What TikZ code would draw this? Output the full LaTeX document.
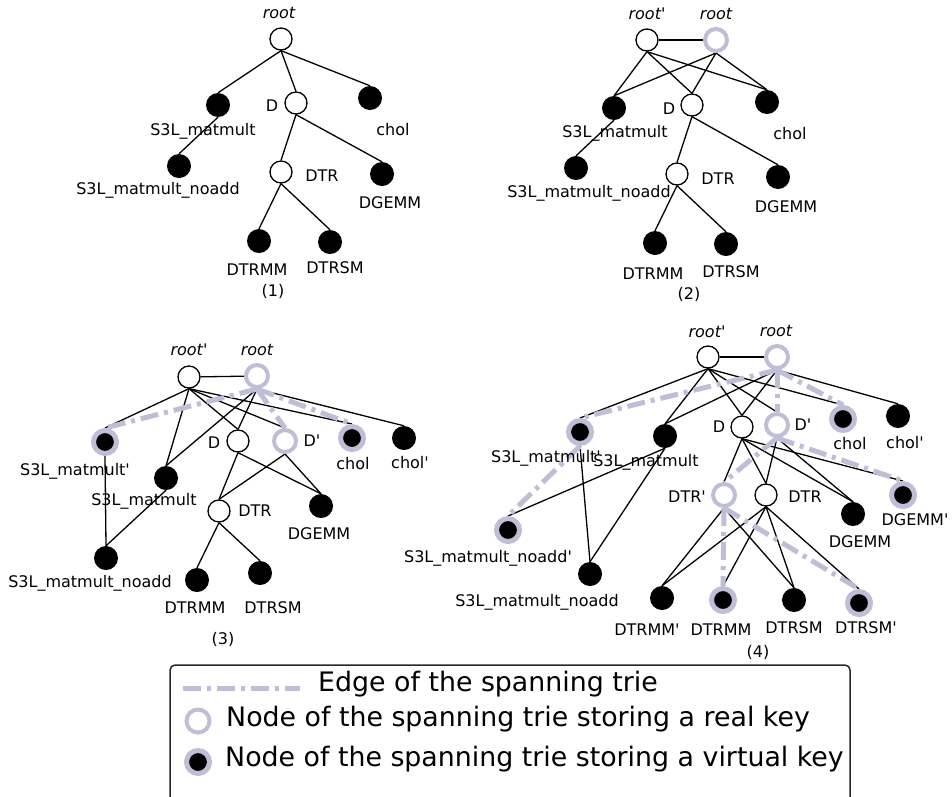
\documentclass[tikz,border=0pt]{standalone}
\usepackage{fontspec}
\newfontfamily\df{DejaVu Sans}
\usetikzlibrary{backgrounds}
\definecolor{lav}{RGB}{190,190,215}
\definecolor{boxc}{RGB}{40,40,40}
\tikzset{
  plain/.style={circle,draw=black,fill=white,line width=1.3pt,minimum size=22pt,inner sep=0pt},
  blk/.style={circle,fill=black,minimum size=24pt,inner sep=0pt},
  realk/.style={circle,draw=lav,fill=white,line width=4pt,minimum size=22pt,inner sep=0pt},
  virtk/.style={circle,draw=lav,fill=black,line width=5pt,minimum size=23pt,inner sep=0pt},
  lbl/.style={inner sep=0pt,font=\df\fontsize{16}{19}\selectfont},
  ilbl/.style={inner sep=0pt,font=\df\itshape\fontsize{16}{19}\selectfont},
  edg/.style={line width=1.3pt,black},
  span/.style={line width=5pt,lav,dash pattern=on 18pt off 6pt on 4pt off 6pt},
  leg/.style={inner sep=0pt,anchor=west,font=\df\fontsize{26.8}{31}\selectfont}
}
\begin{document}
\begin{tikzpicture}[x=1pt,y=-1pt]
\useasboundingbox (0,0) rectangle (952,796);
% ---------- Panel 1 ----------
\node[plain] (p1root) at (281,39) {};
\node[blk] (p1s3l) at (218,105) {};
\node[plain] (p1D) at (296,103) {};
\node[blk] (p1chol) at (370,98) {};
\node[blk] (p1noadd) at (179,166) {};
\node[plain] (p1DTR) at (281,172) {};
\node[blk] (p1DGEMM) at (382,174) {};
\node[blk] (p1DTRMM) at (259,241) {};
\node[blk] (p1DTRSM) at (330,242) {};
\node[ilbl] (l1root) at (279,13) {root};
\node[lbl] (l1s3l) at (203,131) {S3L\_matmult};
\node[lbl] (l1D) at (272,106) {D};
\node[lbl] (l1chol) at (393,130) {chol};
\node[lbl] (l1noadd) at (158,190) {S3L\_matmult\_noadd};
\node[lbl] (l1DTR) at (322,176) {DTR};
\node[lbl] (l1DGEMM) at (390,203) {DGEMM};
\node[lbl] (l1DTRMM) at (257,270) {DTRMM};
\node[lbl] (l1DTRSM) at (335,268) {DTRSM};
\node[lbl] (cap1) at (273,291) {(1)};
% ---------- Panel 2 ----------
\node[plain] (p2rootp) at (647,40) {};
\node[realk] (p2root) at (716,40) {};
\node[blk] (p2s3l) at (614,108) {};
\node[plain] (p2D) at (692,105) {};
\node[blk] (p2chol) at (767,102) {};
\node[blk] (p2noadd) at (576,168) {};
\node[plain] (p2DTR) at (677,174) {};
\node[blk] (p2DGEMM) at (778,177) {};
\node[blk] (p2DTRMM) at (655,243) {};
\node[blk] (p2DTRSM) at (726,244) {};
\node[ilbl] (l2rootp) at (647,14) {root'};
\node[ilbl] (l2root) at (716,14) {root};
\node[lbl] (l2s3l) at (615,133) {S3L\_matmult};
\node[lbl] (l2D) at (669,109) {D};
\node[lbl] (l2chol) at (790,134) {chol};
\node[lbl] (l2noadd) at (589,193) {S3L\_matmult\_noadd};
\node[lbl] (l2DTR) at (718,179) {DTR};
\node[lbl] (l2DGEMM) at (786,207) {DGEMM};
\node[lbl] (l2DTRMM) at (653,274) {DTRMM};
\node[lbl] (l2DTRSM) at (731,272) {DTRSM};
\node[lbl] (cap2) at (689,294) {(2)};
% ---------- Panel 3 ----------
\node[plain] (p3rootp) at (189,377) {};
\node[realk] (p3root) at (257,376) {};
\node[virtk] (p3s3lp) at (105,442) {};
\node[blk] (p3s3l) at (166,478) {};
\node[plain] (p3D) at (238,441) {};
\node[realk] (p3Dp) at (285,441) {};
\node[virtk] (p3chol) at (352,438) {};
\node[blk] (p3cholp) at (404,438) {};
\node[plain] (p3DTR) at (219,511) {};
\node[blk] (p3DGEMM) at (321,506) {};
\node[blk] (p3noadd) at (106,558) {};
\node[blk] (p3DTRMM) at (197,580) {};
\node[blk] (p3DTRSM) at (260,573) {};
\node[ilbl] (l3rootp) at (189,350) {root'};
\node[ilbl] (l3root) at (257,350) {root};
\node[lbl] (l3s3lp) at (75,471) {S3L\_matmult'};
\node[lbl] (l3s3l) at (144,501) {S3L\_matmult};
\node[lbl] (l3D) at (214,443) {D};
\node[lbl] (l3Dp) at (312,441) {D'};
\node[lbl] (l3chol) at (353,464) {chol};
\node[lbl] (l3cholp) at (410,463) {chol'};
\node[lbl] (l3DTR) at (255,511) {DTR};
\node[lbl] (l3DGEMM) at (319,534) {DGEMM};
\node[lbl] (l3noadd) at (90,583) {S3L\_matmult\_noadd};
\node[lbl] (l3DTRMM) at (195,608) {DTRMM};
\node[lbl] (l3DTRSM) at (273,608) {DTRSM};
\node[lbl] (cap3) at (223,639) {(3)};
% ---------- Panel 4 ----------
\node[plain] (p4rootp) at (708,357) {};
\node[realk] (p4root) at (777,357) {};
\node[virtk] (p4s3lp) at (580,432) {};
\node[blk] (p4s3l) at (665,436) {};
\node[virtk] (p4noaddp) at (508,530) {};
\node[blk] (p4noadd) at (590,574) {};
\node[plain] (p4D) at (742,427) {};
\node[realk] (p4Dp) at (777,425) {};
\node[virtk] (p4chol) at (843,419) {};
\node[blk] (p4cholp) at (898,416) {};
\node[realk] (p4DTRp) at (724,495) {};
\node[plain] (p4DTR) at (766,495) {};
\node[blk] (p4DGEMM) at (853,514) {};
\node[virtk] (p4DGEMMp) at (903,495) {};
\node[blk] (p4DTRMMp) at (662,598) {};
\node[virtk] (p4DTRMM) at (723,600) {};
\node[blk] (p4DTRSM) at (794,600) {};
\node[virtk] (p4DTRSMp) at (859,603) {};
\node[ilbl] (l4rootp) at (707,332) {root'};
\node[ilbl] (l4root) at (776,331) {root};
\node[lbl] (l4s3lp) at (546,458) {S3L\_matmult'};
\node[lbl] (l4s3l) at (646,462) {S3L\_matmult};
\node[lbl] (l4noaddp) at (488,558) {S3L\_matmult\_noadd'};
\node[lbl] (l4noadd) at (537,602) {S3L\_matmult\_noadd};
\node[lbl] (l4D) at (719,427) {D};
\node[lbl] (l4Dp) at (803,425) {D'};
\node[lbl] (l4chol) at (850,444) {chol};
\node[lbl] (l4cholp) at (905,443) {chol'};
\node[lbl] (l4DTRp) at (687,497) {DTR'};
\node[lbl] (l4DTR) at (805,497) {DTR};
\node[lbl] (l4DGEMM) at (860,542) {DGEMM};
\node[lbl] (l4DGEMMp) at (915,520) {DGEMM'};
\node[lbl] (l4DTRMMp) at (647,630) {DTRMM'};
\node[lbl] (l4DTRMM) at (721,630) {DTRMM};
\node[lbl] (l4DTRSM) at (794,628) {DTRSM};
\node[lbl] (l4DTRSMp) at (866,628) {DTRSM'};
\node[lbl] (cap4) at (758,652) {(4)};
% ---------- Legend ----------
\coordinate (legA) at (183,688);
\coordinate (legB) at (300,688);
\node[realk,minimum size=23pt] (legreal) at (198,721) {};
\node[virtk,minimum size=23pt] (legvirt) at (198,762) {};
\node[leg] (legt1) at (318,684) {Edge of the spanning trie};
\node[leg] (legt2) at (226,719) {Node of the spanning trie storing a real key};
\node[leg] (legt3) at (225,759) {Node of the spanning trie storing a virtual key};
\begin{scope}[on background layer]
\draw[boxc,line width=1.5pt,rounded corners=5pt] (170,665) rectangle (850,815);
\draw[span] (legA) -- (legB);
% panel 1 edges
\draw[edg] (p1root.south) -- (p1s3l.north);
\draw[edg] (p1root.south) -- (p1D.north);
\draw[edg] (p1root.south) -- (p1chol.north);
\draw[edg] (p1s3l.south) -- (p1noadd.north);
\draw[edg] (p1D.south) -- (p1DTR.north);
\draw[edg] (p1D.south) -- (p1DGEMM.north);
\draw[edg] (p1DTR.south) -- (p1DTRMM.north);
\draw[edg] (p1DTR.south) -- (p1DTRSM.north);
% panel 2 edges
\draw[edg] (p2rootp) -- (p2root);
\draw[edg] (p2rootp.south) -- (p2s3l.north);
\draw[edg] (p2rootp.south) -- (p2D.north);
\draw[edg] (p2rootp.south) -- (p2chol.north);
\draw[edg] (p2root.south) -- (p2s3l.north);
\draw[edg] (p2root.south) -- (p2D.north);
\draw[edg] (p2root.south) -- (p2chol.north);
\draw[edg] (p2s3l.south) -- (p2noadd.north);
\draw[edg] (p2D.south) -- (p2DTR.north);
\draw[edg] (p2D.south) -- (p2DGEMM.north);
\draw[edg] (p2DTR.south) -- (p2DTRMM.north);
\draw[edg] (p2DTR.south) -- (p2DTRSM.north);
% panel 3 edges
\draw[edg] (p3rootp) -- (p3root);
\draw[edg] (p3rootp.south) -- (p3s3lp.north);
\draw[edg] (p3rootp.south) -- (p3s3l.north);
\draw[edg] (p3rootp.south) -- (p3D.north);
\draw[edg] (p3rootp.south) -- (p3Dp.north);
\draw[edg] (p3rootp.south) -- (p3chol.north);
\draw[edg] (p3root.south) -- (p3cholp.north);
\draw[edg] (p3root.south) -- (p3s3l.north);
\draw[edg] (p3root.south) -- (p3D.north);
\draw[edg] (p3s3lp.south) -- (p3noadd.north);
\draw[edg] (p3s3l.south) -- (p3noadd.north);
\draw[edg] (p3D.south) -- (p3DTR.north);
\draw[edg] (p3D.south) -- (p3DGEMM.north);
\draw[edg] (p3Dp.south) -- (p3DTR.north);
\draw[edg] (p3Dp.south) -- (p3DGEMM.north);
\draw[edg] (p3DTR.south) -- (p3DTRMM.north);
\draw[edg] (p3DTR.south) -- (p3DTRSM.north);
\draw[span] (p3root.south) -- (p3s3lp.north);
\draw[span] (p3root.south) -- (p3Dp.north);
\draw[span] (p3root.south) -- (p3chol.north);
% panel 4 edges
\draw[edg] (p4rootp) -- (p4root);
\draw[edg] (p4rootp.south) -- (p4s3lp.north);
\draw[edg] (p4rootp.south) -- (p4s3l.north);
\draw[edg] (p4rootp.south) -- (p4D.north);
\draw[edg] (p4rootp.south) -- (p4Dp.north);
\draw[edg] (p4rootp.south) -- (p4chol.north);
\draw[edg] (p4root.south) -- (p4s3l.north);
\draw[edg] (p4root.south) -- (p4D.north);
\draw[edg] (p4root.south) -- (p4cholp.north);
\draw[edg] (p4s3lp.south) -- (p4noadd.north);
\draw[edg] (p4s3l.south) -- (p4noaddp.north);
\draw[edg] (p4s3l.south) -- (p4noadd.north);
\draw[edg] (p4D.south) -- (p4DTRp.north);
\draw[edg] (p4D.south) -- (p4DTR.north);
\draw[edg] (p4D.south) -- (p4DGEMM.north);
\draw[edg] (p4D.south) -- (p4DGEMMp.north);
\draw[edg] (p4Dp.south) -- (p4DTR.north);
\draw[edg] (p4Dp.south) -- (p4DGEMM.north);
\draw[edg] (p4DTRp.south) -- (p4DTRMMp.north);
\draw[edg] (p4DTRp.south) -- (p4DTRSM.north);
\draw[edg] (p4DTR.south) -- (p4DTRMMp.north);
\draw[edg] (p4DTR.south) -- (p4DTRMM.north);
\draw[edg] (p4DTR.south) -- (p4DTRSM.north);
\draw[edg] (p4DTR.south) -- (p4DTRSMp.north);
\draw[span] (p4root.south) -- (p4s3lp.north);
\draw[span] (p4root.south) -- (p4Dp.north);
\draw[span] (p4root.south) -- (p4chol.north);
\draw[span] (p4s3lp.south) -- (p4noaddp.north);
\draw[span] (p4Dp.south) -- (p4DTRp.north);
\draw[span] (p4Dp.south) -- (p4DGEMMp.north);
\draw[span] (p4DTRp.south) -- (p4DTRMM.north);
\draw[span] (p4DTRp.south) -- (p4DTRSMp.north);
\end{scope}
\end{tikzpicture}
\end{document}
